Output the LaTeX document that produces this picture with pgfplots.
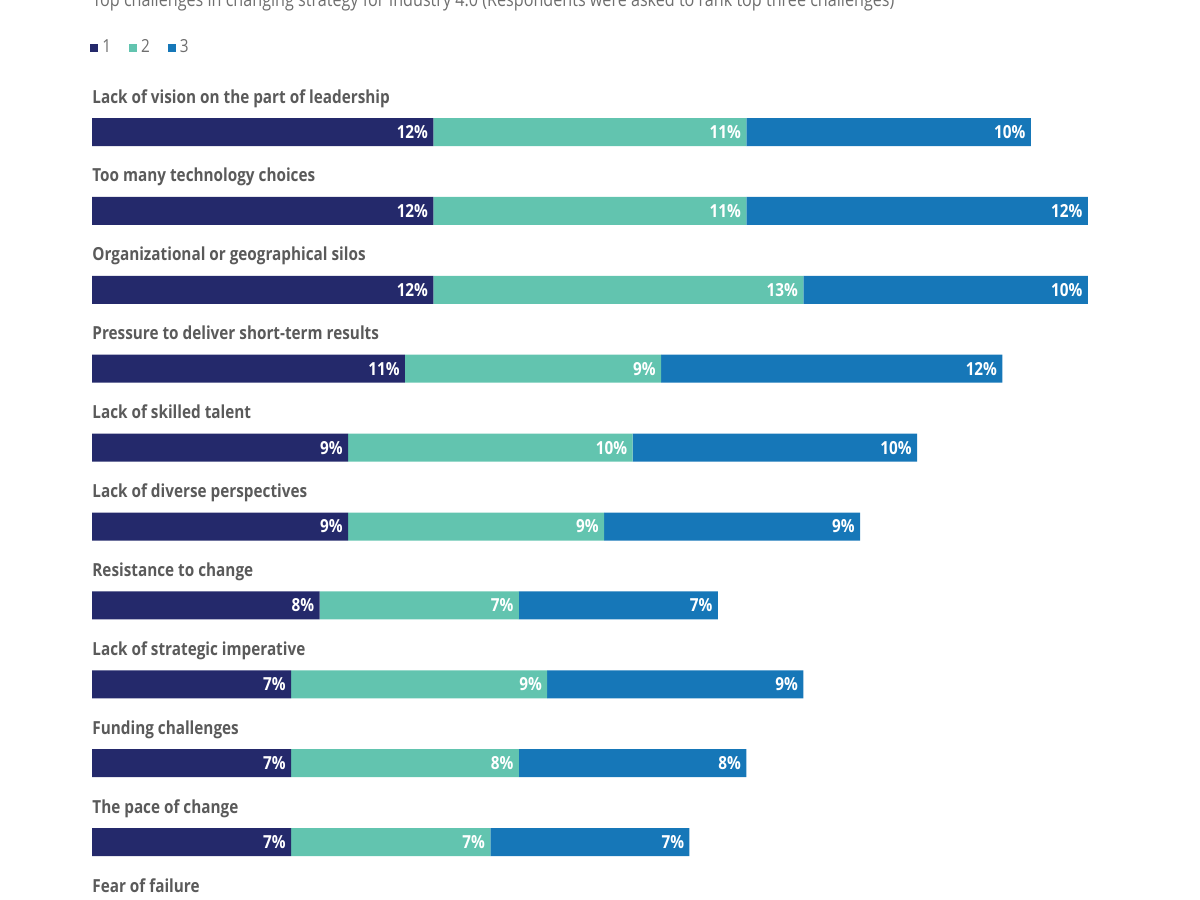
\documentclass[border=0pt]{standalone}
\usepackage{pgfplots}
\pgfplotsset{compat=1.18}
\usepackage{pgfplotstable}
\usepackage{fontspec}
\setmainfont{Open Sans}
\newfontfamily\condfont[FakeStretch=0.85]{Open Sans}
\definecolor{cnavy}{HTML}{24296B}
\definecolor{cteal}{HTML}{62C4AF}
\definecolor{cblue}{HTML}{1677B8}
\definecolor{labgray}{HTML}{5A5A5A}
\definecolor{titlegray}{HTML}{6E6E6E}
\tikzset{lab/.style={anchor=base west, inner sep=0, yshift=14.5pt, text=labgray, font=\condfont\bfseries\fontsize{9}{10}\selectfont}}

\pgfplotstableread{
row s1 s2 s3
0 12 11 10
1 12 11 12
2 12 13 10
3 11 9 12
4 9 10 10
5 9 9 9
6 8 7 7
7 7 9 9
8 7 8 8
9 7 7 7
}\data

\begin{document}
\begin{tikzpicture}
\useasboundingbox (0,0) rectangle (600pt,450pt);
\node[anchor=base west, inner sep=0, text=titlegray, font=\condfont\fontsize{9.5}{11}\selectfont] at (46pt,446.5pt) {Top challenges in changing strategy for Industry 4.0 (Respondents were asked to rank top three challenges)};
\begin{axis}[
  at={(46pt,403.725pt)}, anchor=north west,
  scale only axis, width=540.55pt, height=394.5pt,
  xmin=0, xmax=38, ymin=-0.5, ymax=9.5, y dir=reverse,
  xbar stacked, bar width=14pt,
  axis lines=none, ticks=none, clip=false,
  point meta=explicit symbolic,
  nodes near coords={\pgfplotspointmeta\%},
  every node near coord/.append style={anchor=east, inner sep=0.5pt, xshift={\pgfplotspointmeta*7.1125pt-2pt}, text=white, font=\condfont\bfseries\fontsize{9}{10}\selectfont},
  legend style={at={(axis cs:-0.07,-1.07)}, anchor=west, draw=none, fill=none, inner sep=0pt,
    font=\condfont\fontsize{9}{10}\selectfont, text=titlegray,
    /tikz/every even column/.append style={column sep=7pt}},
  legend columns=3, legend cell align=left,
]
\addplot[fill=cnavy, draw=none, legend image code/.code={\fill[cnavy] (0pt,-2pt) rectangle (4pt,2pt);}] table[x=s1, y=row, meta=s1] {\data};
\addplot[fill=cteal, draw=none, legend image code/.code={\fill[cteal] (0pt,-2pt) rectangle (4pt,2pt);}] table[x=s2, y=row, meta=s2] {\data};
\addplot[fill=cblue, draw=none, legend image code/.code={\fill[cblue] (0pt,-2pt) rectangle (4pt,2pt);}] table[x=s3, y=row, meta=s3] {\data};
\legend{1,2,3}
\node[lab] at (axis cs:0,0) {Lack of vision on the part of leadership};
\node[lab] at (axis cs:0,1) {Too many technology choices};
\node[lab] at (axis cs:0,2) {Organizational or geographical silos};
\node[lab] at (axis cs:0,3) {Pressure to deliver short-term results};
\node[lab] at (axis cs:0,4) {Lack of skilled talent};
\node[lab] at (axis cs:0,5) {Lack of diverse perspectives};
\node[lab] at (axis cs:0,6) {Resistance to change};
\node[lab] at (axis cs:0,7) {Lack of strategic imperative};
\node[lab] at (axis cs:0,8) {Funding challenges};
\node[lab] at (axis cs:0,9) {The pace of change};
\node[lab] at (axis cs:0,10) {Fear of failure};
\end{axis}
\end{tikzpicture}
\end{document}
